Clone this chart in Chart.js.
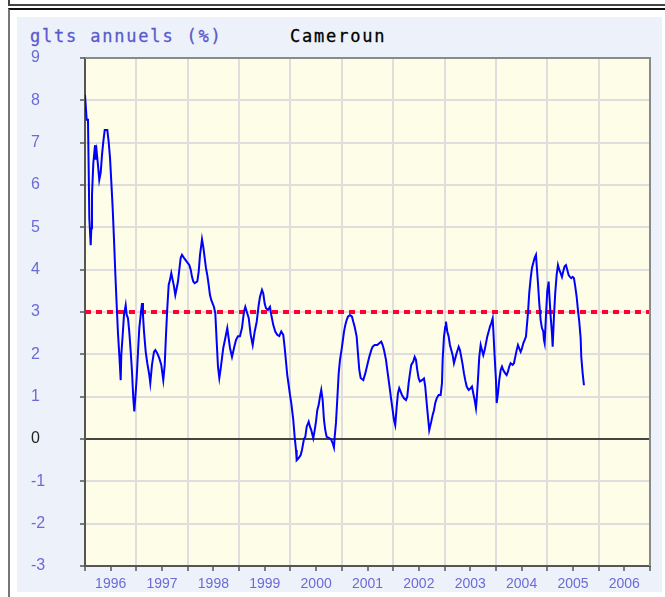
<!DOCTYPE html>
<html>
<head>
<meta charset="utf-8">
<script src="https://cdn.jsdelivr.net/npm/chart.js@4/dist/chart.umd.min.js"></script>
<style>
  html, body { margin: 0; padding: 0; background: #fff; width: 665px; height: 597px; overflow: hidden; position: relative; }
  #topbox { position: absolute; left: 8px; top: -20px; width: 700px; height: 22px; border: 2px solid #444; }
  #frame { position: absolute; left: 8px; top: 8px; width: 700px; height: 700px; border-left: 2px solid #777; border-top: 2px solid #111; }
  #panel { position: absolute; left: 17px; top: 17px; width: 645px; height: 575px; background: #edf1fa; }
  .title { position: absolute; top: 28px; font: 17px 'DejaVu Sans Mono', monospace; letter-spacing: 1.8px; line-height: 17px; white-space: nowrap; -webkit-text-stroke: 0.3px currentColor; }
  #unit { left: 30px; color: #5a5acd; }
  #country { left: 290px; color: #000; }
  #chart { position: absolute; left: 0; top: 0; }
</style>
</head>
<body>
<div id="topbox"></div>
<div id="frame"></div>
<div id="panel"></div>
<div class="title" id="unit">glts annuels (%)</div>
<div class="title" id="country">Cameroun</div>
<canvas id="chart" width="665" height="597"></canvas>
<script>
// glissement annuel de l'inflation, Cameroun (dates en années décimales)
const years = [
  1996.000, 1996.033, 1996.058, 1996.072, 1996.084, 1996.111, 1996.123, 1996.136, 1996.162, 1996.195,
  1996.208, 1996.228, 1996.253, 1996.278, 1996.306, 1996.331, 1996.356, 1996.384, 1996.434, 1996.461,
  1996.487, 1996.512, 1996.539, 1996.565, 1996.590, 1996.617, 1996.642, 1996.668, 1996.695, 1996.707,
  1996.734, 1996.759, 1996.792, 1996.812, 1996.837, 1996.862, 1996.890, 1996.915, 1996.940, 1996.960,
  1996.979, 1997.006, 1997.032, 1997.057, 1997.084, 1997.110, 1997.129, 1997.149, 1997.182, 1997.213,
  1997.252, 1997.271, 1997.304, 1997.343, 1997.369, 1997.408, 1997.446, 1997.485, 1997.524, 1997.552,
  1997.577, 1997.602, 1997.629, 1997.655, 1997.680, 1997.707, 1997.733, 1997.758, 1997.785, 1997.810,
  1997.836, 1997.863, 1997.888, 1997.927, 1997.980, 1998.030, 1998.058, 1998.083, 1998.108, 1998.135,
  1998.186, 1998.213, 1998.239, 1998.264, 1998.278, 1998.303, 1998.330, 1998.355, 1998.381, 1998.408,
  1998.433, 1998.459, 1998.486, 1998.511, 1998.537, 1998.564, 1998.589, 1998.615, 1998.642, 1998.667,
  1998.692, 1998.731, 1998.770, 1998.797, 1998.823, 1998.862, 1998.901, 1998.940, 1998.978, 1999.017,
  1999.056, 1999.095, 1999.121, 1999.148, 1999.187, 1999.226, 1999.265, 1999.304, 1999.343, 1999.381,
  1999.407, 1999.446, 1999.471, 1999.498, 1999.524, 1999.562, 1999.601, 1999.627, 1999.666, 1999.704,
  1999.743, 1999.782, 1999.821, 1999.860, 1999.888, 1999.913, 1999.938, 1999.966, 1999.991, 2000.016,
  2000.055, 2000.082, 2000.108, 2000.121, 2000.160, 2000.199, 2000.224, 2000.263, 2000.289, 2000.316,
  2000.355, 2000.380, 2000.405, 2000.444, 2000.472, 2000.497, 2000.522, 2000.549, 2000.575, 2000.600,
  2000.627, 2000.653, 2000.678, 2000.705, 2000.756, 2000.795, 2000.822, 2000.847, 2000.861, 2000.886,
  2000.911, 2000.939, 2000.964, 2000.989, 2001.017, 2001.042, 2001.067, 2001.094, 2001.120, 2001.159,
  2001.198, 2001.223, 2001.250, 2001.289, 2001.314, 2001.340, 2001.367, 2001.418, 2001.457, 2001.496,
  2001.535, 2001.573, 2001.601, 2001.640, 2001.690, 2001.729, 2001.768, 2001.795, 2001.821, 2001.860,
  2001.885, 2001.912, 2001.937, 2001.963, 2001.990, 2002.015, 2002.040, 2002.068, 2002.093, 2002.118,
  2002.146, 2002.171, 2002.210, 2002.249, 2002.274, 2002.301, 2002.327, 2002.352, 2002.391, 2002.418,
  2002.444, 2002.469, 2002.496, 2002.521, 2002.560, 2002.599, 2002.624, 2002.652, 2002.677, 2002.702,
  2002.741, 2002.769, 2002.794, 2002.819, 2002.847, 2002.885, 2002.924, 2002.950, 2002.963, 2002.989,
  2003.014, 2003.027, 2003.053, 2003.080, 2003.105, 2003.131, 2003.158, 2003.183, 2003.209, 2003.236,
  2003.275, 2003.300, 2003.325, 2003.353, 2003.378, 2003.403, 2003.431, 2003.470, 2003.508, 2003.534,
  2003.559, 2003.586, 2003.612, 2003.625, 2003.650, 2003.676, 2003.703, 2003.728, 2003.754, 2003.781,
  2003.806, 2003.832, 2003.859, 2003.884, 2003.910, 2003.937, 2003.949, 2003.976, 2004.001, 2004.015,
  2004.040, 2004.065, 2004.093, 2004.118, 2004.143, 2004.182, 2004.209, 2004.234, 2004.260, 2004.287,
  2004.326, 2004.351, 2004.377, 2004.404, 2004.429, 2004.454, 2004.482, 2004.507, 2004.533, 2004.560,
  2004.585, 2004.599, 2004.624, 2004.649, 2004.677, 2004.702, 2004.727, 2004.754, 2004.780, 2004.793,
  2004.819, 2004.844, 2004.871, 2004.896, 2004.922, 2004.935, 2004.949, 2004.974, 2004.999, 2005.027,
  2005.038, 2005.066, 2005.091, 2005.105, 2005.130, 2005.155, 2005.182, 2005.208, 2005.233, 2005.260,
  2005.286, 2005.311, 2005.338, 2005.364, 2005.389, 2005.416, 2005.441, 2005.467, 2005.494, 2005.519,
  2005.545, 2005.572, 2005.597, 2005.623, 2005.650, 2005.662, 2005.689, 2005.714
];
const rates = [
  8.13, 7.54, 7.54, 6.35, 5.22, 4.58, 4.98, 5.76, 6.52, 6.94,
  6.60, 6.78, 6.47, 6.12, 6.30, 6.71, 7.02, 7.30, 7.30, 7.02,
  6.64, 6.08, 5.45, 4.70, 3.92, 3.16, 2.50, 1.98, 1.39, 2.00,
  2.46, 2.93, 3.16, 2.93, 2.85, 2.53, 2.06, 1.59, 0.97, 0.65,
  0.97, 1.44, 2.06, 2.62, 2.93, 3.21, 2.93, 2.53, 2.06, 1.79,
  1.51, 1.32, 1.75, 2.06, 2.10, 2.02, 1.91, 1.75, 1.39, 1.75,
  2.46, 3.09, 3.64, 3.76, 3.92, 3.76, 3.60, 3.40, 3.56, 3.72,
  4.00, 4.28, 4.35, 4.28, 4.19, 4.11, 4.00, 3.83, 3.72, 3.68,
  3.72, 3.95, 4.35, 4.58, 4.72, 4.54, 4.28, 4.04, 3.87, 3.64,
  3.40, 3.28, 3.20, 3.12, 2.97, 2.30, 1.71, 1.44, 1.67, 1.91,
  2.15, 2.38, 2.62, 2.38, 2.15, 1.94, 2.15, 2.34, 2.43, 2.43,
  2.62, 3.01, 3.12, 3.01, 2.86, 2.46, 2.22, 2.54, 2.77, 3.16,
  3.36, 3.52, 3.44, 3.20, 3.09, 3.05, 3.12, 2.93, 2.69, 2.54,
  2.46, 2.43, 2.54, 2.46, 2.15, 1.83, 1.51, 1.27, 1.04, 0.85,
  0.45, 0.05, -0.26, -0.50, -0.45, -0.38, -0.26, 0.00, 0.05, 0.29,
  0.41, 0.29, 0.21, 0.02, 0.21, 0.41, 0.68, 0.80, 1.00, 1.16,
  0.92, 0.45, 0.21, 0.05, 0.02, -0.02, -0.10, -0.20, 0.05, 0.38,
  0.92, 1.55, 1.87, 2.06, 2.30, 2.53, 2.69, 2.81, 2.89, 2.93,
  2.89, 2.77, 2.65, 2.42, 2.03, 1.63, 1.44, 1.39, 1.55, 1.75,
  1.94, 2.10, 2.18, 2.22, 2.22, 2.26, 2.30, 2.22, 2.10, 1.87,
  1.63, 1.39, 1.16, 0.92, 0.68, 0.45, 0.33, 0.76, 1.08, 1.20,
  1.12, 1.04, 0.96, 0.92, 1.00, 1.32, 1.55, 1.75, 1.83, 1.94,
  1.87, 1.63, 1.43, 1.36, 1.39, 1.43, 1.24, 0.85, 0.53, 0.21,
  0.41, 0.57, 0.68, 0.85, 0.96, 1.04, 1.04, 1.32, 1.87, 2.42,
  2.65, 2.77, 2.54, 2.42, 2.22, 2.10, 1.98, 1.79, 1.91, 2.03,
  2.18, 2.10, 1.94, 1.75, 1.55, 1.39, 1.24, 1.16, 1.20, 1.24,
  1.08, 0.92, 0.73, 0.92, 1.39, 1.94, 2.22, 2.10, 1.98, 2.10,
  2.26, 2.42, 2.54, 2.65, 2.74, 2.85, 2.58, 1.94, 1.39, 0.85,
  1.08, 1.39, 1.63, 1.71, 1.63, 1.55, 1.51, 1.59, 1.71, 1.79,
  1.75, 1.79, 1.94, 2.10, 2.22, 2.14, 2.06, 2.14, 2.26, 2.34,
  2.42, 2.62, 2.97, 3.45, 3.80, 4.04, 4.16, 4.28, 4.35, 4.12,
  3.68, 3.21, 2.81, 2.62, 2.54, 2.34, 2.26, 2.89, 3.48, 3.72,
  3.45, 2.89, 2.50, 2.18, 2.89, 3.45, 3.87, 4.11, 4.00, 3.92,
  3.83, 3.96, 4.08, 4.11, 4.00, 3.87, 3.83, 3.80, 3.83, 3.80,
  3.60, 3.36, 3.05, 2.77, 2.38, 1.94, 1.55, 1.27
];

// seuil de 3 % tracé en pointillés rouges
const threshold = 3;
const xRange = [1996, 2007];
const yRange = [-3, 9];

const labelBlue = '#6b6bd6';
const gridGrey = '#dedede';

const plotFrame = {
  id: 'plotFrame',
  beforeDraw(chart) {
    const { ctx, chartArea: a } = chart;
    ctx.save();
    ctx.fillStyle = '#fefde7';
    ctx.fillRect(a.left, a.top, a.right - a.left, a.bottom - a.top);
    ctx.restore();
  },
  afterDraw(chart) {
    const { ctx, chartArea: a } = chart;
    ctx.save();
    ctx.strokeStyle = '#8a8a8a';
    ctx.lineWidth = 2;
    ctx.beginPath();
    ctx.moveTo(a.left, a.top);
    ctx.lineTo(a.right, a.top);
    ctx.lineTo(a.right, a.bottom);
    ctx.stroke();
    ctx.restore();
  }
};

new Chart(document.getElementById('chart'), {
  type: 'line',
  data: {
    datasets: [
      {
        data: years.map((x, i) => ({ x: x, y: rates[i] })),
        borderColor: '#0000ff',
        borderWidth: 2,
        pointRadius: 0,
        tension: 0
      },
      {
        data: xRange.map(x => ({ x: x, y: threshold })),
        borderColor: '#ff0033',
        borderWidth: 4,
        borderDash: [6, 5],
        pointRadius: 0
      }
    ]
  },
  options: {
    responsive: false,
    animation: false,
    layout: { padding: { left: 31, top: 58, right: 15, bottom: 0 } },
    plugins: { legend: { display: false }, tooltip: { enabled: false } },
    scales: {
      x: {
        type: 'linear',
        min: xRange[0],
        max: xRange[1],
        afterFit: s => { s.height = 31; },
        grid: {
          color: c => Number.isInteger(c.tick.value) ? gridGrey : 'rgba(0,0,0,0)',
          lineWidth: 2,
          tickLength: 5,
          tickColor: '#555',
          tickWidth: 1.5
        },
        border: { color: '#555', width: 2 },
        ticks: {
          stepSize: 0.5,
          autoSkip: false,
          maxRotation: 0,
          padding: 5,
          color: labelBlue,
          font: { family: 'Liberation Sans', size: 14 },
          callback: v => (v % 1 === 0.5) ? String(Math.floor(v)) : ''
        }
      },
      y: {
        min: yRange[0],
        max: yRange[1],
        afterFit: s => { s.width = 54; },
        grid: {
          color: c => c.tick.value === 0 ? '#444' : gridGrey,
          lineWidth: 2,
          tickLength: 5,
          tickColor: '#555',
          tickWidth: 1.5
        },
        border: { color: '#555', width: 2 },
        ticks: {
          stepSize: 1,
          crossAlign: 'far',
          padding: 0,
          color: c => c.tick.value === 0 ? '#222' : labelBlue,
          font: { family: 'Liberation Sans', size: 16 }
        }
      }
    }
  },
  plugins: [plotFrame]
});
</script>
</body>
</html>
